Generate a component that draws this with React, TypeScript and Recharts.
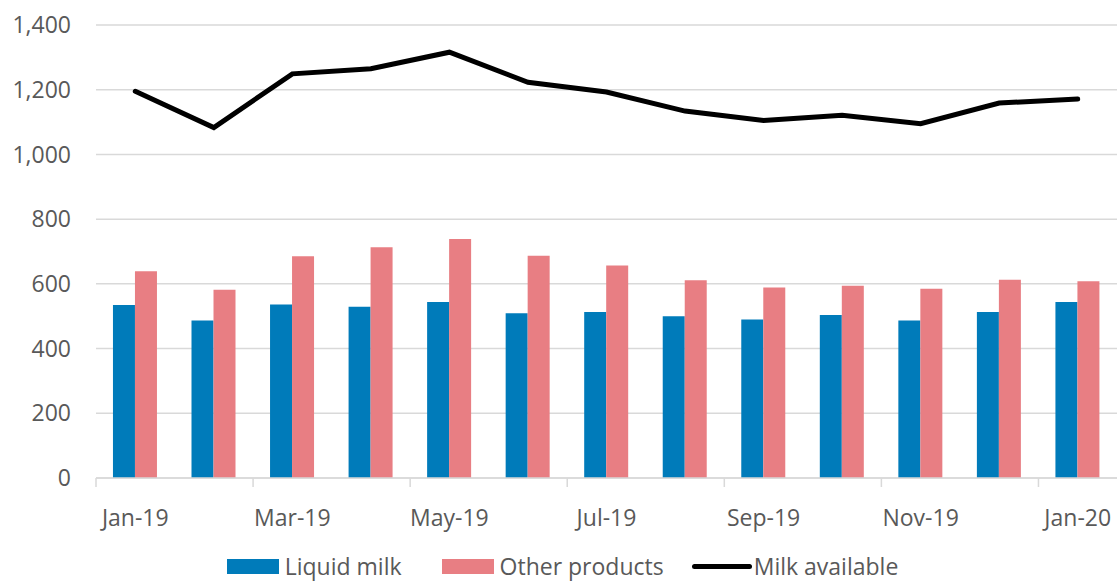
import { Bar, CartesianGrid, ComposedChart, Legend, Line, XAxis, YAxis } from "recharts";

const months = [
  "Jan-19", "Feb-19", "Mar-19", "Apr-19", "May-19", "Jun-19", "Jul-19",
  "Aug-19", "Sep-19", "Oct-19", "Nov-19", "Dec-19", "Jan-20",
];
const liquidMilk = [535, 487, 536, 529, 544, 509, 513, 500, 490, 504, 487, 513, 544];
const otherProducts = [639, 582, 685, 713, 739, 687, 657, 611, 589, 594, 585, 613, 608];
const milkAvailable = [1195, 1083, 1249, 1265, 1316, 1223, 1193, 1134, 1105, 1121, 1095, 1159, 1171];
const yTicks = [0, 200, 400, 600, 800, 1000, 1200, 1400];

const BLUE = "#007bba";
const PINK = "#e87e83";
const GRID = "#d9d9d9";
const TEXT = "#595959";
const FONT = "'Open Sans', sans-serif";

const data = months.map((month, i) => ({
  month,
  liquid: liquidMilk[i],
  other: otherProducts[i],
  available: milkAvailable[i],
}));

function MonthTick(props: any) {
  const { x, y, payload } = props;
  const half = payload?.offset ?? 0;
  return (
    <g>
      <line x1={x - half} x2={x - half} y1={y - 8} y2={y + 1} stroke={GRID} strokeWidth={1.5} />
      <text x={x} y={y + 40} textAnchor="middle" fill={TEXT} fontSize={23} fontFamily={FONT}>
        {payload.value}
      </text>
    </g>
  );
}

function LegendContent() {
  const label = { fontSize: 23, color: TEXT, fontFamily: FONT, lineHeight: "30px" };
  return (
    <div
      style={{
        height: 30,
        display: "flex",
        justifyContent: "center",
        alignItems: "center",
        paddingLeft: 8,
      }}
    >
      <span style={{ width: 52, height: 15, background: BLUE, marginRight: 6 }} />
      <span style={label}>Liquid milk</span>
      <span style={{ width: 52, height: 15, background: PINK, marginLeft: 40, marginRight: 6 }} />
      <span style={label}>Other products</span>
      <span
        style={{ width: 60, height: 5, borderRadius: 3, background: "#000", marginLeft: 28, marginRight: 2 }}
      />
      <span style={label}>Milk available</span>
    </div>
  );
}

export default function App() {
  return (
    <div style={{ width: 1118, height: 581, background: "#fff" }}>
      <style>{"body{margin:0}"}</style>
      <ComposedChart
        width={1118}
        height={581}
        data={data}
        margin={{ top: 25, right: 1, left: 0, bottom: 0 }}
        barCategoryGap="21.6%"
        barGap={0}
      >
        <CartesianGrid vertical={false} stroke={GRID} strokeWidth={1.5} />
        <XAxis
          dataKey="month"
          interval={1}
          height={73}
          tickSize={6}
          tickMargin={2}
          tickLine={false}
          axisLine={{ stroke: GRID, strokeWidth: 1.5 }}
          tick={<MonthTick />}
        />
        <YAxis
          domain={[0, 1400]}
          ticks={yTicks}
          width={96}
          axisLine={false}
          tickLine={false}
          tickMargin={19}
          tickFormatter={(v: number) => v.toLocaleString("en-US")}
          tick={{ fontSize: 23, fill: TEXT, fontFamily: FONT }}
        />
        <Legend verticalAlign="bottom" height={30} content={<LegendContent />} />
        <Bar dataKey="liquid" name="Liquid milk" fill={BLUE} isAnimationActive={false} />
        <Bar dataKey="other" name="Other products" fill={PINK} isAnimationActive={false} />
        <Line
          type="linear"
          dataKey="available"
          name="Milk available"
          stroke="#000"
          strokeWidth={5}
          strokeLinecap="round"
          dot={false}
          isAnimationActive={false}
        />
      </ComposedChart>
    </div>
  );
}
